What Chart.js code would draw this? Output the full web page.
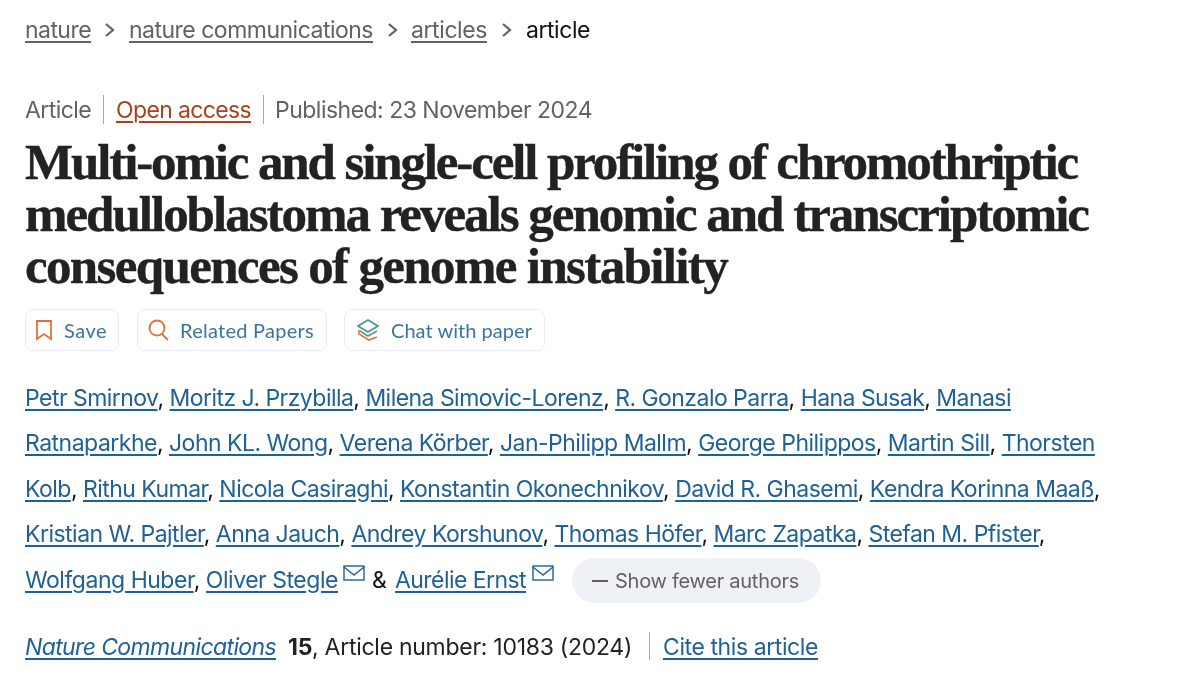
<!DOCTYPE html>
<html>
<head>
<meta charset="utf-8">
<script src="https://cdn.jsdelivr.net/npm/chart.js@4"></script>
<style>
  html, body { margin: 0; background: #fff; }
  #page { position: relative; width: 1200px; height: 685px; overflow: hidden; font-family: Inter, sans-serif; }
  #bg { position: absolute; left: 0; top: 0; }
  .t { position: absolute; white-space: nowrap; line-height: 1; }
  .grey { color: #626262; }
  a.grey { text-decoration: underline; text-underline-offset: 3px; text-decoration-thickness: 1.5px; }
  .blue { color: #1f6196; text-decoration: underline; text-underline-offset: 3px; text-decoration-thickness: 1.5px; }
  .title { font-family: "Liberation Serif", serif; font-weight: 700; font-size: 51px; color: #222; -webkit-text-stroke: 0.4px #222; }
  .btn { position: absolute; box-sizing: border-box; top: 309px; height: 42px; border: 1px solid #e9edf1; border-radius: 8px; }
  .btnText { font-family: Lato, sans-serif; font-size: 20px; color: #3b74a3; }
  .sep { position: absolute; width: 1px; background: #a8a8a8; }
  #pill { position: absolute; left: 572px; top: 558px; width: 249px; height: 45px; border-radius: 23px; background: #eef2f6; }
  svg { position: absolute; overflow: visible; fill: none; }
</style>
</head>
<body>
<div id="page">
  <canvas id="bg" width="1200" height="685"></canvas>
  <div class="btn" style="left:25px;width:94px"></div>
  <div class="btn" style="left:137px;width:190px"></div>
  <div class="btn" style="left:344px;width:201px"></div>
  <div id="pill"></div>
  <div class="sep" style="left:103px;top:95px;height:29px"></div>
  <div class="sep" style="left:263px;top:95px;height:29px"></div>
  <div class="sep" style="left:649px;top:632px;height:28px"></div>
  <svg style="left:0;top:0" width="1200" height="685">
    <g stroke="#626262" stroke-width="2.2">
      <path d="M106 24l7 6-7 6"/><path d="M389 24l7 6-7 6"/><path d="M503 24l7 6-7 6"/>
    </g>
    <path d="M37 321h14v18l-7-5-7 5z" stroke="#e0703a" stroke-width="1.8"/>
    <circle cx="157" cy="328" r="7.5" stroke="#e0703a" stroke-width="1.8"/>
    <path d="M162 334l6 6" stroke="#e0703a" stroke-width="1.8"/>
    <path d="M358 326l10-6 10 6-10 6z" stroke="#4f8f9a" stroke-width="1.6"/>
    <path d="M360 331l8 5 9-5" stroke="#5a9a86" stroke-width="1.6"/>
    <path d="M359 330v4l10 6 8-3" stroke="#d9774a" stroke-width="1.6"/>
    <g stroke="#1f6196" stroke-width="1.4">
      <rect x="344" y="566" width="20" height="14"/><path d="M344 567l10 8 10-8"/>
      <rect x="533" y="566" width="20" height="14"/><path d="M533 567l10 8 10-8"/>
    </g>
    <path d="M592 581h16" stroke="#626262" stroke-width="2"/>
  </svg>
</div>
<script>
// the reference is an article header, it has no plotted values, so the chart stays empty
const crumbLinks = ['nature', 'nature communications', 'articles'];
const crumbX = [25, 129, 411];
const crumbW = [66, 244, 76];
const crumbLast = 'article';
const titleLines = [
  'Multi-omic and single-cell profiling of chromothriptic',
  'medulloblastoma reveals genomic and transcriptomic',
  'consequences of genome instability'
];
const titleW = [1052, 1063, 702];
const buttonLabels = ['Save', 'Related Papers', 'Chat with paper'];
const buttonX = [64, 180, 391];
const buttonW = [43, 134, 141];
const authorLines = [
  ['Petr Smirnov', 'Moritz J. Przybilla', 'Milena Simovic-Lorenz', 'R. Gonzalo Parra', 'Hana Susak', 'Manasi'],
  ['Ratnaparkhe', 'John KL. Wong', 'Verena Körber', 'Jan-Philipp Mallm', 'George Philippos', 'Martin Sill', 'Thorsten'],
  ['Kolb', 'Rithu Kumar', 'Nicola Casiraghi', 'Konstantin Okonechnikov', 'David R. Ghasemi', 'Kendra Korinna Maaß'],
  ['Kristian W. Pajtler', 'Anna Jauch', 'Andrey Korshunov', 'Thomas Höfer', 'Marc Zapatka', 'Stefan M. Pfister']
];
const authorW = [986, 1070, 1075, 1020];
const authorY = [398, 443, 489, 534];

new Chart(document.getElementById('bg'), {
  type: 'bar',
  data: { labels: [], datasets: [] },
  options: {
    responsive: false, animation: false,
    plugins: { legend: { display: false }, tooltip: { enabled: false } },
    scales: { x: { display: false }, y: { display: false } },
  },
});

const page = document.getElementById('page');

// place one text at x with its centre at y, letter spacing stretches it to width w
function put(html, x, y, size, cls, w, extra) {
  const el = document.createElement('div');
  el.className = 't ' + cls;
  el.innerHTML = html;
  el.style.left = x + 'px';
  el.style.fontSize = size ? size + 'px' : '';
  if (extra) el.style.cssText += extra;
  page.appendChild(el);
  if (w) {
    const chars = el.textContent.length;
    el.style.letterSpacing = ((w - el.getBoundingClientRect().width) / chars) + 'px';
  }
  el.style.top = (y - el.getBoundingClientRect().height / 2) + 'px';
  return el;
}

crumbLinks.forEach((c, i) => put(`<a class="grey">${c}</a>`, crumbX[i], 30, 23, '', crumbW[i]));
put(crumbLast, 526, 30, 23, '', 64, 'color:#111');

put('Article', 25, 110, 23, 'grey', 66);
put('Open access', 116, 110, 23, '', 135, 'color:#a8431d;text-decoration:underline;text-underline-offset:3px;text-decoration-thickness:1.5px');
put('Published: 23 November 2024', 275, 110, 23, 'grey', 317);

titleLines.forEach((l, i) => put(l, 25, [162, 214, 266][i], 0, 'title', titleW[i]));

buttonLabels.forEach((b, i) => put(b, buttonX[i], 330, 0, 'btnText', buttonW[i]));

authorLines.forEach((line, i) => {
  const end = i === 2 || i === 3 ? '<span style="color:#111">,</span>' : '';
  const html = line.map(a => `<a class="blue">${a}</a>`).join('<span style="color:#111">, </span>') + end;
  put(html, 25, authorY[i], 23, '', authorW[i]);
});

put('<a class="blue">Wolfgang Huber</a><span style="color:#111">, </span><a class="blue">Oliver Stegle</a>', 25, 580, 23, '', 313);
put('&amp;', 372, 580, 23, '', 17, 'color:#111');
put('<a class="blue">Aurélie Ernst</a>', 395, 580, 23, '', 131);
put('Show fewer authors', 615, 581, 20, 'grey', 184);

put('<a class="blue" style="font-style:italic">Nature Communications</a>', 25, 647, 23, '', 251);
put('<b>15</b>, Article number: 10183 (2024)', 288, 647, 23, '', 344, 'color:#222');
put('<a class="blue">Cite this article</a>', 663, 647, 23, '', 155);
</script>
</body>
</html>
